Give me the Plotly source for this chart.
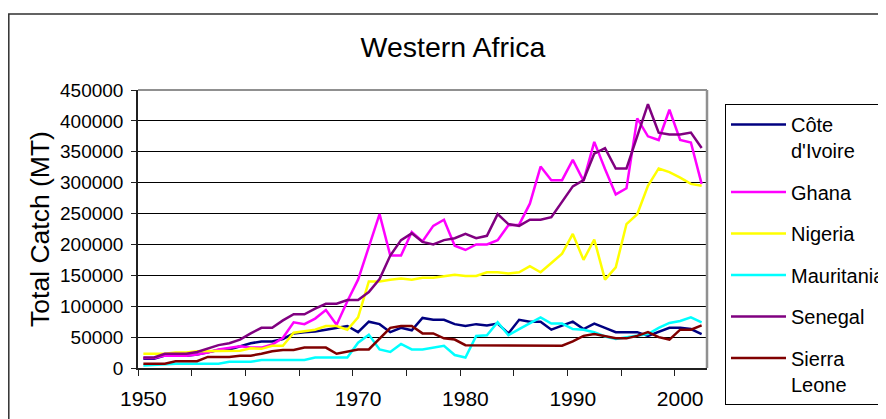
import plotly.graph_objects as go

years = list(range(1950, 2003))

cote_divoire = [15000, 15000, 20000, 20000, 20000, 22000, 25000, 29000, 30000, 35000,
                40000, 43000, 43000, 47000, 56000, 58000, 59000, 62000, 65000, 68000,
                58000, 75000, 71000, 58000, 65000, 61000, 81000, 78000, 78000, 71000,
                68000, 71000, 69000, 72000, 56000, 78000, 75000, 75000, 62000, 68000,
                75000, 63000, 72000, 65000, 58000, 58000, 58000, 52000, 58000, 65000,
                65000, 63000, 55000]
ghana = [16000, 16000, 20000, 20000, 20000, 22000, 25000, 30000, 33000, 35000,
         33000, 33000, 38000, 49000, 74000, 71000, 80000, 94000, 70000, 108000,
         143000, 197000, 249000, 182000, 182000, 220000, 205000, 230000, 240000, 198000,
         191000, 200000, 200000, 207000, 231000, 232000, 266000, 326000, 304000, 304000,
         337000, 303000, 366000, 322000, 281000, 291000, 404000, 375000, 369000, 418000,
         369000, 365000, 298000]
nigeria = [23000, 23000, 23000, 25000, 25000, 27000, 27000, 27000, 27000, 28000,
           32000, 31000, 36000, 36000, 57000, 59000, 62000, 68000, 68000, 62000,
           82000, 140000, 140000, 143000, 145000, 143000, 146000, 146000, 149000, 151000,
           149000, 149000, 155000, 155000, 153000, 155000, 165000, 155000, 170000, 185000,
           217000, 175000, 208000, 143000, 163000, 233000, 249000, 295000, 323000, 317000,
           308000, 298000, 295000]
mauritania = [4000, 5000, 7000, 7000, 7000, 7000, 7000, 7000, 10000, 10000,
              10000, 13000, 13000, 13000, 13000, 13000, 17000, 17000, 17000, 17000,
              41000, 54000, 30000, 26000, 39000, 30000, 30000, 33000, 36000, 21000,
              17000, 52000, 53000, 74000, 53000, 63000, 73000, 82000, 72000, 72000,
              63000, 62000, 58000, 51000, 47000, 50000, 53000, 55000, 65000, 73000,
              76000, 82000, 74000]
senegal = [17000, 17000, 23000, 23000, 23000, 26000, 31000, 37000, 40000, 46000,
           56000, 65000, 65000, 77000, 87000, 87000, 96000, 104000, 104000, 110000,
           110000, 123000, 144000, 182000, 207000, 218000, 204000, 200000, 207000, 210000,
           217000, 210000, 214000, 249000, 233000, 230000, 240000, 240000, 244000, 269000,
           294000, 304000, 347000, 356000, 323000, 323000, 375000, 427000, 381000, 378000,
           378000, 381000, 356000]
sierra_leone = [7000, 7000, 7000, 11000, 11000, 11000, 18000, 18000, 18000, 20000,
                20000, 23000, 27000, 29000, 29000, 33000, 33000, 33000, 23000, 27000,
                30000, 30000, 47000, 65000, 68000, 68000, 56000, 56000, 48000, 46000,
                37000, 37000, 36000, 36000, 36000, 36000, 36000, 36000, 36000, 36000,
                43000, 52000, 55000, 52000, 48000, 48000, 52000, 58000, 50000, 46000,
                62000, 62000, 69000]

series_names = ["Côte<br>d'Ivoire", "Ghana", "Nigeria", "Mauritania", "Senegal", "Sierra<br>Leone"]
series_values = [cote_divoire, ghana, nigeria, mauritania, senegal, sierra_leone]
series_colors = ["#000080", "#FF00FF", "#FFFF00", "#00FFFF", "#800080", "#800000"]

x_tick_vals = [1950, 1960, 1970, 1980, 1990, 2000]
x_tick_labels = ["1950", "1960", "1970", "1980", "1990", "2000"]
y_tick_vals = [0, 50000, 100000, 150000, 200000, 250000, 300000, 350000, 400000, 450000]
y_tick_labels = ["0", "50000", "100000", "150000", "200000", "250000", "300000",
                 "350000", "400000", "450000"]

FONT = "Liberation Sans, Arial, sans-serif"

# page body has an 8px margin: figure is placed at (8, 8) in the window
W, H = 878, 411
PL, PR, PT, PB = 130, 699, 82, 360   # plot area in figure pixels

def px(x):
    return (x - PL) / (PR - PL)

def py(y):
    return (PB - y) / (PB - PT)

fig = go.Figure()
for i, (name, vals, col) in enumerate(zip(series_names, series_values, series_colors)):
    fig.add_trace(go.Scatter(x=years, y=vals, name=name, mode="lines",
                             line=dict(color=col, width=2.5),
                             legendgroup=f"g{i}"))

fig.update_layout(
    width=W, height=H,
    margin=dict(l=PL, r=W - PR, t=PT, b=H - PB, autoexpand=False),
    paper_bgcolor="white", plot_bgcolor="white",
    font=dict(family=FONT, color="black", size=19),
    title=dict(text="Western Africa", x=445 / W, xanchor="center", xref="container",
               y=1 - 39 / H, yanchor="middle", yref="container",
               font=dict(size=28.5, family=FONT, color="black")),
    xaxis=dict(range=[1949.5, 2002.5], tickmode="array", tickvals=x_tick_vals,
               ticktext=x_tick_labels, ticks="", showgrid=False, zeroline=False,
               showline=True, linecolor="#202020", linewidth=1.5,
               tickfont=dict(size=21, family=FONT), ticklabelstandoff=11,
               minor=dict(tick0=1949.5, dtick=5, ticks="outside", ticklen=6,
                          tickcolor="#202020", tickwidth=1, showgrid=False)),
    yaxis=dict(range=[0, 450000], tickmode="array", tickvals=y_tick_vals,
               ticktext=y_tick_labels,
               ticks="outside", ticklen=5, tickcolor="#202020",
               showgrid=True, gridcolor="black", gridwidth=1, zeroline=False,
               showline=True, linecolor="#202020", linewidth=1.5,
               tickfont=dict(size=19, family=FONT), ticklabelstandoff=4,
               title=dict(text="Total Catch (MT)", font=dict(size=26.5, family=FONT),
                          standoff=3)),
    legend=dict(x=px(717), xanchor="left", y=py(96), yanchor="top",
                bordercolor="black", borderwidth=1, bgcolor="white",
                font=dict(size=20, family=FONT), valign="top",
                tracegroupgap=12.5, itemwidth=55, traceorder="grouped",
                maxheight=330),
    showlegend=True,
)

# plot area border (grey top and right edges)
fig.add_shape(type="line", xref="paper", yref="paper", x0=0, x1=1, y0=1, y1=1,
              line=dict(color="#909090", width=2), layer="above")
fig.add_shape(type="line", xref="paper", yref="paper", x0=1, x1=1, y0=0, y1=1,
              line=dict(color="#909090", width=2.5), layer="above")
# outer chart border
fig.add_shape(type="rect", xref="paper", yref="paper",
              x0=px(0.8), x1=px(W + 10),
              y0=py(H + 10), y1=py(6),
              line=dict(color="#303030", width=1.5), layer="below")

fig.write_html("out.html")
